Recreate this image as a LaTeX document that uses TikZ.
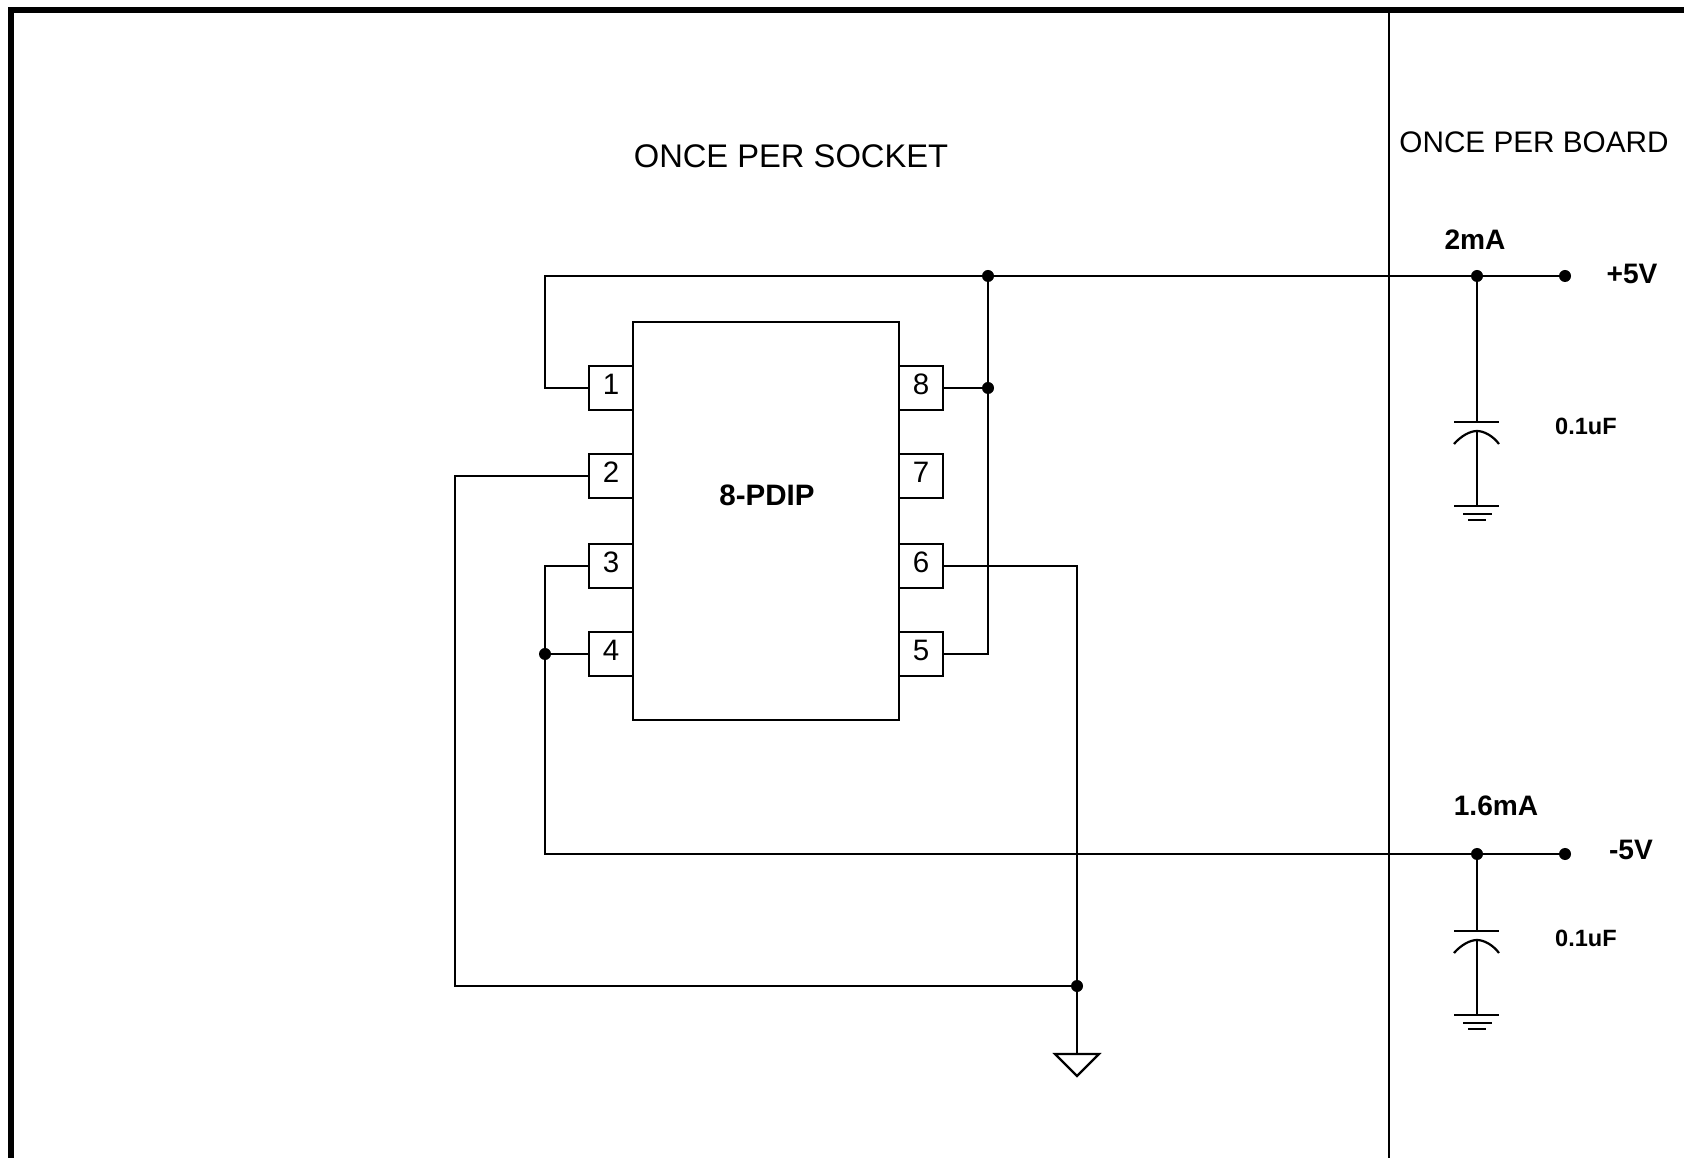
\documentclass[tikz,border=0pt]{standalone}
\usepackage{fontspec}
\setmainfont{Liberation Sans}
\tikzset{
wire/.style={line width=0.63pt,line join=miter},
pinbox/.style={draw,line width=0.63pt,inner sep=0,outer sep=0,minimum size=0.44cm,font=\fontsize{8.4}{10}\selectfont,text height=0.2cm,text depth=0.07cm},
dot/.style={circle,fill=black,inner sep=0,outer sep=0,minimum size=0.12cm},
boldlabel/.style={inner sep=0,font=\fontsize{8}{10}\selectfont\bfseries},
smalllabel/.style={inner sep=0,font=\fontsize{6.7}{8}\selectfont\bfseries},
}
\begin{document}
\begin{tikzpicture}[x=0.01cm,y=-0.01cm]
\useasboundingbox (0,0) rectangle (1684,1158);
\draw[line width=1.7pt] (11,1158) -- (11,10) -- (1684,10);
\coordinate (divtop) at (1389,10);
\coordinate (divbot) at (1389,1158);
\draw[wire] (divtop) -- (divbot);
\node[inner sep=0,font=\fontsize{9.3}{11}\selectfont] (socket) at (791,156) {ONCE PER SOCKET};
\node[inner sep=0,font=\fontsize{8.45}{10}\selectfont] (board) at (1534,142) {ONCE PER BOARD};
% chip and pins
\node[draw,wire,inner sep=0,outer sep=0,minimum width=2.66cm,minimum height=3.98cm] (chip) at (766,521) {};
\node[boldlabel,font=\fontsize{8.4}{10}\selectfont\bfseries] (chipname) at (767,495) {8-PDIP};
\foreach \n/\y in {1/388,2/476,3/566,4/654} {
\node[pinbox] (p\n) at (611,\y) {\n};
}
\foreach \n/\y in {8/388,7/476,6/566,5/654} {
\node[pinbox] (p\n) at (921,\y) {\n};
}
% junctions
\node[dot] (jtop) at (988,276) {};
\node[dot] (j8) at (988,388) {};
\node[dot] (j4) at (545,654) {};
\node[dot] (jgnd) at (1077,986) {};
\node[dot] (jplus) at (1477,276) {};
\node[dot] (jminus) at (1477,854) {};
\node[dot] (vplus) at (1565,276) {};
\node[dot] (vminus) at (1565,854) {};
\coordinate (topleft) at (545,276);
\coordinate (botleft) at (455,986);
\coordinate (gtop) at (1077,1054);
% wires
\draw[wire] (p1.west) -| (topleft) -- (jtop.center) -- (jplus.center) -- (vplus.center);
\draw[wire] (jtop.center) -- (j8.center) |- (p5.east);
\draw[wire] (p8.east) -- (j8.center);
\draw[wire] (p3.west) -| (j4.center) |- (jminus.center) -- (vminus.center);
\draw[wire] (p4.west) -- (j4.center);
\draw[wire] (p2.west) -| (botleft) -- (jgnd.center);
\draw[wire] (p6.east) -| (jgnd.center) -- (gtop);
\draw[wire] (1055,1054) -- (1099,1054) -- (1077,1076) -- cycle;
% caps
\foreach \n/\j/\y in {a/jplus/422,b/jminus/931} {
\coordinate (plate\n) at (1477,\y);
\coordinate (curve\n) at (1477,\y+9);
\coordinate (gnd\n) at (1477,\y+84);
\draw[wire] (\j.center) -- (plate\n);
\draw[wire] (curve\n) -- (gnd\n);
\draw[wire] (1454,\y) -- (1499,\y);
\draw[wire] (1454,\y+22) .. controls (1461,\y+14) and (1470,\y+9) .. (curve\n) .. controls (1484,\y+9) and (1493,\y+14) .. (1499,\y+22);
\draw[wire] (1454,\y+84) -- (1499,\y+84);
\draw[wire] (1463,\y+92) -- (1492,\y+92);
\draw[wire] (1468,\y+98) -- (1486,\y+98);
}
% labels
\node[boldlabel] (iplus) at (1475,240) {2mA};
\node[boldlabel] (iminus) at (1496,806) {1.6mA};
\node[boldlabel] (lplus) at (1632,274) {+5V};
\node[boldlabel] (lminus) at (1631,850) {-5V};
\node[smalllabel] (capa) at (1586,426) {0.1uF};
\node[smalllabel] (capb) at (1586,938) {0.1uF};
\end{tikzpicture}
\end{document}
